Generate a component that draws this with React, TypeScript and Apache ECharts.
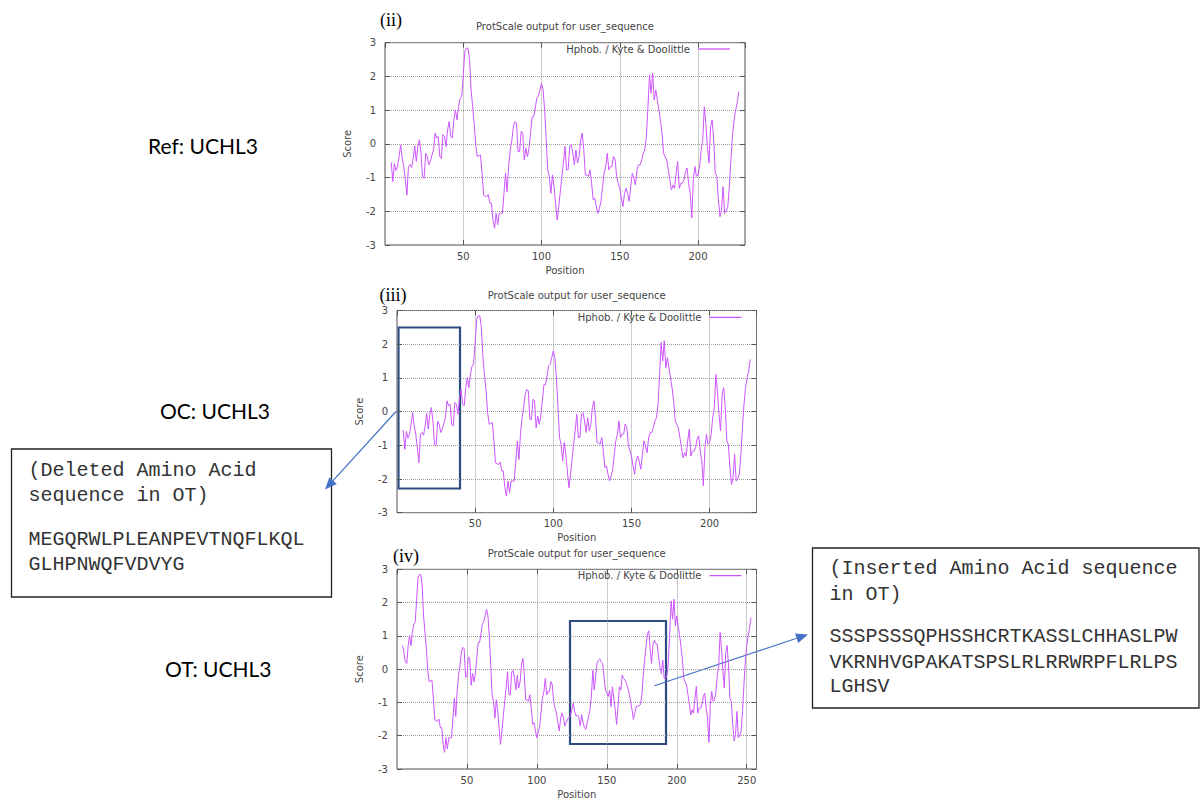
import React, { useEffect, useRef } from "react";
import * as echarts from "echarts";

// ---------------- data ----------------
const SERIES_NAME = "Hphob. / Kyte & Doolittle";
const CHART_TITLE = "ProtScale output for user_sequence";
const X_NAME = "Position";
const Y_NAME = "Score";
const X_STEP = 50;
const Y_MIN = -3;
const Y_MAX = 3;

// (ii) Ref: UCHL3 — scores at positions refStart .. 226
const refLength = 230;
const refStart = 4;
const refScores = [
  -0.55, -1.12, -0.59, -0.79, -0.67, -0.38, -0.03, -0.43, -0.67, -1.07,
  -1.52, -0.67, -0.62, -0.7, -0.43, -0.06, -0.52, -0.08, 0.12, -0.28,
  -0.99, -1.02, -0.28, -0.38, -0.62, -0.52, -0.33, -0.18, 0.32, 0.17,
  0.22, -0.38, -0.43, 0.27, 0.22, -0.08, 0.42, 0.66, 0.22, 0.17,
  0.71, 1.01, 0.71, 1.11, 1.35, 1.41, 2.05, 2.74, 2.84, 2.84,
  2.5, 1.6, 1.1, 0.6, -0.05, -0.38, -0.35, -0.33, -0.87, -1.52,
  -1.55, -1.57, -1.5, -1.76, -1.76, -2.26, -2.5, -2.06, -2.4, -2.06,
  -2.06, -2.06, -1.47, -0.87, -1.42, -0.67, -0.18, 0.1, 0.5, 0.66,
  0.61, -0.23, -0.23, 0.37, 0.32, -0.48, -0.13, -0.38, -0.13, 0.32,
  0.8, 0.8, 1.06, 1.36, 1.41, 1.6, 1.8, 1.6, 1.0, 0.12,
  -0.77, -0.97, -1.47, -0.92, -1.27, -1.76, -2.26, -1.86, -1.42, -0.97,
  -0.57, -0.08, -0.77, -0.77, -0.08, -0.03, -0.28, -0.62, -0.18, -0.57,
  -0.38, 0.12, 0.32, -0.18, -0.92, -0.92, -0.97, -0.77, -1.17, -1.66,
  -1.61, -1.86, -2.06, -1.91, -1.71, -1.27, -0.87, -0.67, -0.28, -0.77,
  -0.67, -0.67, -0.37, -0.47, -0.97, -1.17, -1.32, -1.61, -1.86, -1.47,
  -1.32, -1.47, -1.71, -1.27, -0.87, -1.02, -1.22, -0.77, -0.62, -0.62,
  -0.48, -0.28, -0.18, 0.22, 1.1, 2.05, 1.5, 2.1, 1.3, 1.6,
  1.3, 1.0, 0.7, 0.3, -0.28, -0.38, -0.48, -0.77, -1.07, -1.37,
  -1.22, -1.32, -0.87, -0.52, -1.32, -1.17, -1.17, -1.07, -0.82, -0.72,
  -1.17, -1.47, -2.2, -1.07, -0.67, -0.97, -0.92, -0.67, -0.18, 0.12,
  1.1, 0.61, -0.08, -0.57, 0.5, 0.71, 0.12, -0.87, -0.97, -1.66,
  -2.16, -1.96, -1.27, -2.06, -2.0, -1.86, -1.27, -0.48, 0.22, 0.71,
  1.0, 1.2, 1.55,
];

// (iii) OC: UCHL3 — the plotted profile is the same as (ii)
const ocLength = 230;
const ocStart = 4;
const ocScores = refScores;

// (iv) OT: UCHL3 — three stretches of the profile
const otLength = 257;
const otHeadStart = 4;
const otHead = [
  0.71, 0.49, 0.22, 0.17, 0.71, 1.01, 0.71, 1.11, 1.35, 1.41,
  2.05, 2.74, 2.84, 2.84, 2.5, 1.6, 1.1, 0.6, -0.05, -0.38,
  -0.35, -0.33, -0.87, -1.52, -1.55, -1.57, -1.5, -1.76, -1.76, -2.26,
  -2.5, -2.06, -2.4, -2.06, -2.06, -2.06, -1.47, -0.87, -1.42, -0.67,
  -0.18, 0.1, 0.5, 0.66, 0.61, -0.23, -0.23, 0.37, 0.32, -0.48,
  -0.13, -0.38, -0.13, 0.32, 0.8, 0.8, 1.06, 1.36, 1.41, 1.6,
  1.8, 1.6, 1.0, 0.12, -0.77, -0.97, -1.47, -0.92, -1.27, -1.76,
  -2.26, -1.86, -1.42, -0.97, -0.57, -0.08, -0.77, -0.77, -0.08, -0.03,
  -0.28, -0.62, -0.18, -0.57, -0.38, 0.12, 0.32, -0.18, -0.92, -0.92,
  -0.97, -0.77, -1.17, -1.66, -1.61, -1.86, -2.06, -1.91, -1.71, -1.27,
  -0.87, -0.67, -0.28, -0.77, -0.67, -0.67, -0.37, -0.47, -0.97, -1.17,
  -1.32, -1.61, -1.86, -1.47, -1.32, -1.47, -1.71,
];
const otInsertStart = 121;
const otInsert = [
  -1.6, -1.5, -1.45, -1.41, -1.2, -1.02, -1.27, -1.41, -1.38, -1.45,
  -1.71, -1.37, -1.6, -1.76, -1.81, -1.6, -1.41, -1.22, -0.78, -0.03,
  -0.63, -0.23, 0.17, 0.27, 0.31, 0.22, 0.17, -0.23, -0.63, -0.72,
  -0.82, -0.63, -1.12, -0.53, -0.87, -1.22, -1.66, -1.12, -0.53, -0.63,
  -0.18, -0.28, -0.33, -0.43, -0.58, -0.73, -0.97, -1.22, -1.51, -1.32,
  -1.12, -1.12, -1.1, -1.07, -0.82, -0.23, 0.27, 0.66, 1.05, 1.15,
  0.56, 0.17, 0.76, 0.86, 0.76, 0.76, 0.36, 0.07, -0.13, 0.27,
  -0.28,
];
const otTailStart = 192;
const otTail = [
  -0.28, -0.18, 0.22, 1.1, 2.05, 1.5, 2.1, 1.3, 1.6, 1.3,
  1.0, 0.7, 0.3, -0.28, -0.38, -0.48, -0.77, -1.07, -1.37, -1.22,
  -1.32, -0.87, -0.52, -1.32, -1.17, -1.17, -1.07, -0.82, -0.72, -1.17,
  -1.47, -2.2, -1.07, -0.67, -0.97, -0.92, -0.67, -0.18, 0.12, 1.1,
  0.61, -0.08, -0.57, 0.5, 0.71, 0.12, -0.87, -0.97, -1.66, -2.16,
  -1.96, -1.27, -2.06, -2.0, -1.86, -1.27, -0.48, 0.22, 0.71, 1.0,
  1.2, 1.55,
];

const panelLabels = ["(ii)", "(iii)", "(iv)"];
const sampleLabels = ["Ref: UCHL3", "OC: UCHL3", "OT: UCHL3"];
const deletedLines = [
  "(Deleted Amino Acid",
  "sequence in OT)",
  "MEGQRWLPLEANPEVTNQFLKQL",
  "GLHPNWQFVDVYG",
];
const insertedLines = [
  "(Inserted Amino Acid sequence",
  "in OT)",
  "SSSPSSSQPHSSHCRTKASSLCHHASLPW",
  "VKRNHVGPAKATSPSLRLRRWRPFLRLPS",
  "LGHSV",
];

// ---------------- helpers ----------------
const toPoints = (start: number, values: number[]) =>
  values.map((v, i) => [start + i, v]);

const LINE_COLOR = "#cc55ff";
const AXIS_COLOR = "#555555";
const TEXT_COLOR = "#444444";
const SANS = "DejaVu Sans, Verdana, sans-serif";
const MONO = "Courier New, Liberation Mono, monospace";
const SERIF = "Liberation Serif, Times New Roman, serif";
const CALLOUT = "#4472c4";
const NAVY = "#2e4c82";

const panels = [
  {
    grid: { left: 385, top: 42.7, width: 360, height: 202.3 },
    xMax: refLength,
    data: toPoints(refStart, refScores),
    titleY: 26,
    legendRight: 471,
    legendTop: 44,
    label: { x: 391, y: 20 },
    sample: { x: 148, y: 145 },
  },
  {
    grid: { left: 397, top: 310.5, width: 359.5, height: 202.2 },
    xMax: ocLength,
    data: toPoints(ocStart, ocScores),
    titleY: 295,
    legendRight: 459.5,
    legendTop: 312.3,
    label: { x: 393, y: 295 },
    sample: { x: 160, y: 410 },
  },
  {
    grid: { left: 397, top: 569.3, width: 359.5, height: 202.7 },
    xMax: otLength,
    data: [
      ...toPoints(otHeadStart, otHead),
      ...toPoints(otInsertStart, otInsert),
      ...toPoints(otTailStart, otTail),
    ],
    titleY: 553.3,
    legendRight: 459.5,
    legendTop: 570.7,
    label: { x: 406, y: 556 },
    sample: { x: 165, y: 668 },
  },
];

function text(x: number, y: number, t: string, size: number, family: string, fill: string, align = "left") {
  return {
    type: "text",
    x,
    y,
    silent: true,
    style: {
      text: t,
      fontSize: size,
      fontFamily: family,
      fill,
      align,
      textAlign: align,
      verticalAlign: "middle",
      textVerticalAlign: "middle",
    },
  };
}

function arrow(x1: number, y1: number, x2: number, y2: number) {
  const dx = x2 - x1;
  const dy = y2 - y1;
  const L = Math.hypot(dx, dy);
  const ux = dx / L;
  const uy = dy / L;
  const len = 12;
  const half = 5;
  const bx = x2 - ux * len;
  const by = y2 - uy * len;
  return [
    { type: "line", silent: true, shape: { x1, y1, x2: bx, y2: by }, style: { stroke: CALLOUT, lineWidth: 1.2 } },
    {
      type: "polygon",
      silent: true,
      shape: { points: [[x2, y2], [bx - uy * half, by + ux * half], [bx + uy * half, by - ux * half]] },
      style: { fill: CALLOUT },
    },
  ];
}

const makeSplitLine = () => ({
  show: true,
  lineStyle: { color: "#9a9a9a", type: "dotted", width: 1 },
});
const makeTick = () => ({ show: true, inside: true, length: 5, lineStyle: { color: AXIS_COLOR } });

function buildOption() {
  const grids: any[] = [];
  const xAxes: any[] = [];
  const yAxes: any[] = [];
  const series: any[] = [];
  const legends: any[] = [];
  const graphics: any[] = [];

  panels.forEach((p, i) => {
    grids.push({ ...p.grid, show: true, borderColor: AXIS_COLOR, borderWidth: 1, backgroundColor: "rgba(0,0,0,0)" });
    xAxes.push({
      gridIndex: i, type: "value", min: 0, max: p.xMax, interval: X_STEP, position: "bottom",
      name: X_NAME, nameLocation: "middle", nameGap: 20,
      nameTextStyle: { fontSize: 10, color: TEXT_COLOR, fontFamily: SANS },
      axisLine: { show: false, onZero: false }, axisTick: makeTick(),
      axisLabel: { fontSize: 10, color: TEXT_COLOR, fontFamily: SANS, margin: 6, showMinLabel: false, showMaxLabel: false },
      splitLine: makeSplitLine(),
    });
    xAxes.push({
      gridIndex: i, type: "value", min: 0, max: p.xMax, interval: X_STEP, position: "top",
      axisLine: { show: false, onZero: false }, axisTick: makeTick(), axisLabel: { show: false }, splitLine: { show: false },
    });
    yAxes.push({
      gridIndex: i, type: "value", min: Y_MIN, max: Y_MAX, interval: 1, position: "left",
      name: Y_NAME, nameLocation: "middle", nameGap: 33, nameRotate: 90,
      nameTextStyle: { fontSize: 10, color: TEXT_COLOR, fontFamily: SANS },
      axisLine: { show: false, onZero: false }, axisTick: makeTick(),
      axisLabel: { fontSize: 10, color: TEXT_COLOR, fontFamily: SANS, margin: 9 },
      splitLine: makeSplitLine(),
    });
    yAxes.push({
      gridIndex: i, type: "value", min: Y_MIN, max: Y_MAX, interval: 1, position: "right",
      axisLine: { show: false, onZero: false }, axisTick: makeTick(), axisLabel: { show: false }, splitLine: { show: false },
    });
    series.push({
      type: "line", name: SERIES_NAME, xAxisIndex: 2 * i, yAxisIndex: 2 * i,
      data: p.data, symbol: "none", showSymbol: false, silent: true,
      lineStyle: { color: LINE_COLOR, width: 1 }, itemStyle: { color: LINE_COLOR },
    });
    legends.push({
      data: [SERIES_NAME], right: p.legendRight, top: p.legendTop, padding: 0, align: "right",
      icon: "rect", itemWidth: 32, itemHeight: 1.3, selectedMode: false,
      itemStyle: { color: LINE_COLOR },
      textStyle: { fontSize: 10, color: TEXT_COLOR, fontFamily: SANS, padding: [0, 3, 0, 0] },
    });
    const cx = p.grid.left + p.grid.width / 2;
    graphics.push(text(cx, p.titleY, CHART_TITLE, 10, SANS, TEXT_COLOR, "center"));
    graphics.push(text(p.label.x, p.label.y, panelLabels[i], 18, SERIF, "#000", "center"));
    graphics.push(text(p.sample.x, p.sample.y, sampleLabels[i], 21, "Lato, Open Sans, sans-serif", "#000", "left"));
  });

  // highlighted regions
  graphics.push({ type: "rect", silent: true, shape: { x: 398.5, y: 327.5, width: 61.5, height: 161 }, style: { fill: "none", stroke: NAVY, lineWidth: 2.2 } });
  graphics.push({ type: "rect", silent: true, shape: { x: 570, y: 621, width: 96, height: 123 }, style: { fill: "none", stroke: NAVY, lineWidth: 2.2 } });

  // sequence boxes
  graphics.push({ type: "rect", silent: true, shape: { x: 11.5, y: 449, width: 320, height: 148 }, style: { fill: "#fff", stroke: "#222", lineWidth: 1.3 } });
  graphics.push({ type: "rect", silent: true, shape: { x: 812.5, y: 548, width: 386.5, height: 160 }, style: { fill: "#fff", stroke: "#222", lineWidth: 1.3 } });
  const delY = [470.7, 495, 539, 564];
  deletedLines.forEach((t, k) => graphics.push(text(28.5, delY[k], t, 20, MONO, "#333")));
  const insY = [568.3, 594.3, 636.7, 662.7, 686.7];
  insertedLines.forEach((t, k) => graphics.push(text(829.5, insY[k], t, 20, MONO, "#333")));

  // callout arrows
  graphics.push(...arrow(396, 411.5, 325, 489.5));
  graphics.push(...arrow(654.3, 685.7, 808, 634.5));

  return {
    animation: false,
    backgroundColor: "#ffffff",
    grid: grids,
    xAxis: xAxes,
    yAxis: yAxes,
    legend: legends,
    series,
    graphic: { elements: graphics },
  };
}

export default function App() {
  const ref = useRef<HTMLDivElement>(null);
  useEffect(() => {
    if (!ref.current) return;
    const chart = echarts.init(ref.current, null, { renderer: "svg" });
    chart.setOption(buildOption() as any);
    return () => chart.dispose();
  }, []);
  return (
    <div
      ref={ref}
      style={{ position: "absolute", left: 0, top: 0, width: 1201, height: 800, background: "#fff" }}
    />
  );
}
